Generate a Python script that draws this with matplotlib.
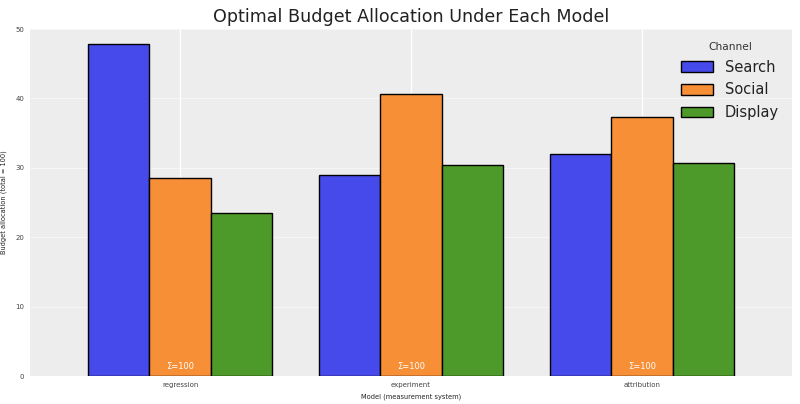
import numpy as np
import matplotlib
matplotlib.use('Agg')
import matplotlib.pyplot as plt

models = ['regression', 'experiment', 'attribution']
channels = ['Search', 'Social', 'Display']
search = [47.9, 29.0, 32.0]
social = [28.6, 40.6, 37.3]
display = [23.5, 30.4, 30.7]
colors = ['#474AEA', '#F78F37', '#4D9929']

fig = plt.figure(figsize=(8, 4.04), dpi=100)
ax = fig.add_axes([0.0375, 0.069, 0.9525, 0.859])
ax.set_facecolor('#EDEDED')
for s in ax.spines.values():
    s.set_visible(False)

x = np.arange(len(models))
w = 0.8 / 3
for i, (vals, lab) in enumerate(zip([search, social, display], channels)):
    ax.bar(x + (i - 1) * w, vals, w, color=colors[i], edgecolor='black',
           linewidth=1.0, label=lab, zorder=3)

for xi, m in enumerate(models):
    tot = search[xi] + social[xi] + display[xi]
    ax.text(xi, 0.8, 'Σ=%d' % round(tot), color='white', fontsize=6,
            ha='center', va='bottom', zorder=4)

ax.set_xticks(x)
ax.set_xticklabels(models)
ax.set_xlim(-0.65, 2.65)
ax.set_ylim(0, 50)
ax.set_yticks([0, 10, 20, 30, 40, 50])
ax.tick_params(axis='both', length=0, labelsize=5, colors='#444444', pad=4)
ax.grid(axis='x', color='white', linewidth=1.0, zorder=0)
ax.grid(axis='y', color='white', linewidth=0.6, alpha=0.6, zorder=0)
ax.set_axisbelow(True)

ax.set_xlabel('Model (measurement system)', fontsize=4.8, labelpad=4, color='#222222')
ax.set_ylabel('Budget allocation (total = 100)', fontsize=4.8, labelpad=6, color='#222222')
ax.set_title('Optimal Budget Allocation Under Each Model', fontsize=12.6, pad=5,
             color='#222222')

leg = ax.legend(title='Channel', fontsize=10.5, title_fontsize=7.7,
                loc='upper right', frameon=False, handlelength=2.2,
                handleheight=0.75, labelspacing=0.52, borderaxespad=0.5)
for t in leg.get_texts():
    t.set_color('#222222')
leg.get_title().set_color('#333333')

fig.savefig('out.png', dpi=100)
